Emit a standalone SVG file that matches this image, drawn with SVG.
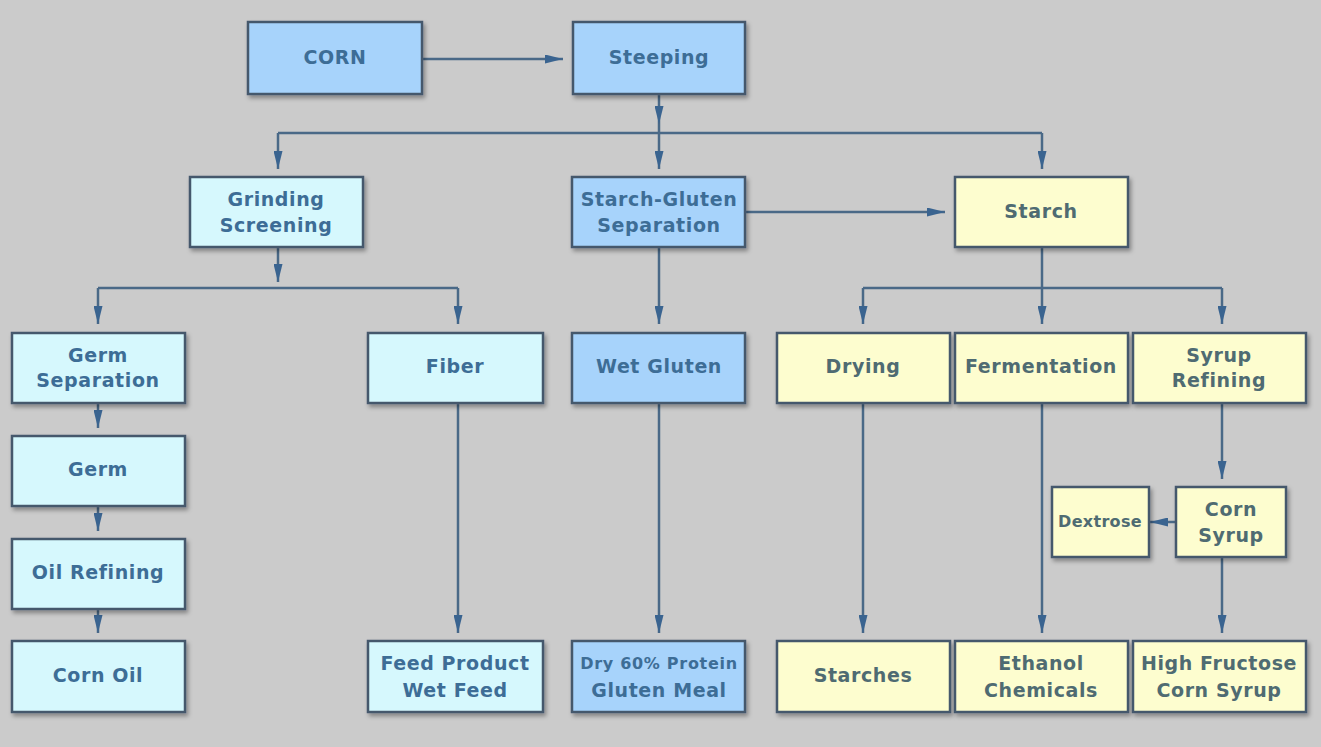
<svg xmlns="http://www.w3.org/2000/svg" width="1321" height="747" viewBox="0 0 1321 747">
<defs>
<marker id="ah" markerUnits="userSpaceOnUse" viewBox="0 0 18 9" refX="18" refY="4.5" markerWidth="18" markerHeight="9" orient="auto">
<path d="M0,0 L18,4.5 L0,9 z" fill="#3a6490"/>
</marker>
<filter id="sh" x="-10%" y="-10%" width="125%" height="135%">
<feDropShadow dx="2" dy="3" stdDeviation="2" flood-color="#000" flood-opacity="0.35"/>
</filter>
</defs>
<style>
.b rect{stroke:#44596c;stroke-width:2.5;filter:url(#sh)}
.blue rect{fill:#a7d3fb}
.cyan rect{fill:#d6f8fd}
.yel rect{fill:#fdfdcf}
text{font-family:"DejaVu Sans","Liberation Sans",sans-serif;font-weight:bold;font-size:19px;letter-spacing:0.6px;text-anchor:middle;dominant-baseline:central}
.blue text,.cyan text{fill:#3d6d96}
.yel text{fill:#4f6b72}
.sm{font-size:16px;letter-spacing:0.7px}
.c path{fill:none;stroke:#4a6987;stroke-width:2.5;marker-end:url(#ah)}
.c path.n{marker-end:none}
</style>
<rect width="1321" height="747" fill="#cbcbcb"/>
<g class="c" id="connectors">
<path d="M423,59 H563"/>
<path d="M659,94 V124"/>
<path class="n" d="M278,133 H1042"/>
<path d="M659,124 V169"/>
<path d="M278,133 V169"/>
<path d="M1042,133 V169"/>
<path d="M745,212 H945"/>
<path d="M278,247 V282"/>
<path class="n" d="M98,288 H458"/>
<path d="M98,288 V324"/>
<path d="M458,288 V324"/>
<path d="M659,247 V324"/>
<path d="M1042,247 V324"/>
<path class="n" d="M863,288 H1222"/>
<path d="M863,288 V324"/>
<path d="M1222,288 V324"/>
<path d="M98,403 V428"/>
<path d="M98,506 V531"/>
<path d="M98,609 V633"/>
<path d="M458,403 V633"/>
<path d="M659,403 V633"/>
<path d="M863,403 V633"/>
<path d="M1042,403 V633"/>
<path d="M1222,403 V479"/>
<path d="M1222,557 V633"/>
<path d="M1176,522 H1150"/>
</g>
<g id="corn" class="b blue"><rect x="248" y="22" width="174" height="72"/><text x="335" y="57">CORN</text></g>
<g id="steeping" class="b blue"><rect x="573" y="22" width="172" height="72"/><text x="659" y="57">Steeping</text></g>
<g id="grinding" class="b cyan"><rect x="190" y="177" width="173" height="70"/><text x="276" y="199">Grinding</text><text x="276" y="225">Screening</text></g>
<g id="sgsep" class="b blue"><rect x="572" y="177" width="173" height="70"/><text x="659" y="199">Starch-Gluten</text><text x="659" y="225">Separation</text></g>
<g id="starch" class="b yel"><rect x="955" y="177" width="173" height="70"/><text x="1041" y="211">Starch</text></g>
<g id="germsep" class="b cyan"><rect x="12" y="333" width="173" height="70"/><text x="98" y="355">Germ</text><text x="98" y="380">Separation</text></g>
<g id="fiber" class="b cyan"><rect x="368" y="333" width="175" height="70"/><text x="455" y="366">Fiber</text></g>
<g id="wetgluten" class="b blue"><rect x="572" y="333" width="173" height="70"/><text x="659" y="366">Wet Gluten</text></g>
<g id="drying" class="b yel"><rect x="777" y="333" width="173" height="70"/><text x="863" y="366">Drying</text></g>
<g id="fermentation" class="b yel"><rect x="955" y="333" width="173" height="70"/><text x="1041" y="366">Fermentation</text></g>
<g id="syrupref" class="b yel"><rect x="1133" y="333" width="173" height="70"/><text x="1219" y="355">Syrup</text><text x="1219" y="380">Refining</text></g>
<g id="germ" class="b cyan"><rect x="12" y="436" width="173" height="70"/><text x="98" y="469">Germ</text></g>
<g id="oilref" class="b cyan"><rect x="12" y="539" width="173" height="70"/><text x="98" y="572">Oil Refining</text></g>
<g id="dextrose" class="b yel"><rect x="1052" y="487" width="97" height="70"/><text class="sm" x="1100" y="521" style="letter-spacing:0.3px">Dextrose</text></g>
<g id="cornsyrup" class="b yel"><rect x="1176" y="487" width="110" height="70"/><text x="1231" y="509">Corn</text><text x="1231" y="535">Syrup</text></g>
<g id="cornoil" class="b cyan"><rect x="12" y="641" width="173" height="71"/><text x="98" y="675">Corn Oil</text></g>
<g id="feed" class="b cyan"><rect x="368" y="641" width="175" height="71"/><text x="455" y="663">Feed Product</text><text x="455" y="690">Wet Feed</text></g>
<g id="glutenmeal" class="b blue"><rect x="572" y="641" width="173" height="71"/><text class="sm" x="659" y="663">Dry 60% Protein</text><text x="659" y="690">Gluten Meal</text></g>
<g id="starches" class="b yel"><rect x="777" y="641" width="173" height="71"/><text x="863" y="675">Starches</text></g>
<g id="ethanol" class="b yel"><rect x="955" y="641" width="173" height="71"/><text x="1041" y="663">Ethanol</text><text x="1041" y="690">Chemicals</text></g>
<g id="hfcs" class="b yel"><rect x="1133" y="641" width="173" height="71"/><text x="1219" y="663">High Fructose</text><text x="1219" y="690">Corn Syrup</text></g>
</svg>
